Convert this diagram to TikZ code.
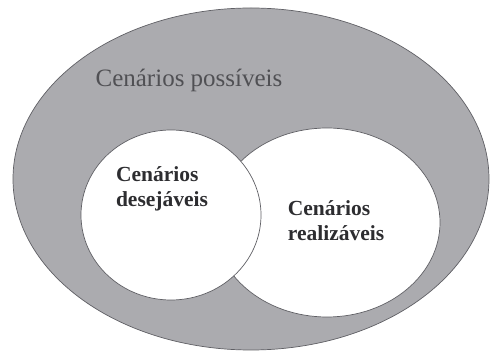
\documentclass[tikz,border=0pt]{standalone}
\usepackage{fontspec}
\setmainfont{Liberation Serif}
\usetikzlibrary{positioning}
\definecolor{setgrey}{RGB}{171, 171, 175}
\definecolor{edgegrey}{RGB}{95, 95, 100}
\definecolor{labelgrey}{RGB}{80, 80, 84}
\definecolor{labeldark}{RGB}{45, 45, 48}

\begin{document}
\begin{tikzpicture}[
    x=1pt, y=-1pt,
    setline/.style={draw=edgegrey, line width=0.7pt},
    biglabel/.style={text=labelgrey, font=\fontsize{25}{28}\selectfont, inner sep=0pt},
    setlabel/.style={text=labeldark, font=\fontsize{21.5}{25}\selectfont\bfseries, align=left, inner sep=0pt}
]
    \useasboundingbox (0,0) rectangle (493,352);
    % Draw the sets, outer one first
    \filldraw[setline, fill=setgrey] (251,179) ellipse [x radius=238pt, y radius=171pt];
    \filldraw[setline, fill=white] (327,222.5) ellipse [x radius=113pt, y radius=94.5pt];
    \filldraw[setline, fill=white] (171,215) ellipse [x radius=90pt, y radius=85pt];

    % Labels
    \node[biglabel] (possiveis) at (189,80) {Cenários possíveis};
    \node[setlabel] (desejaveis) at (162,189) {Cenários\\desejáveis};
    \node[setlabel] (realizaveis) at (336,221) {Cenários\\realizáveis};
\end{tikzpicture}
\end{document}
